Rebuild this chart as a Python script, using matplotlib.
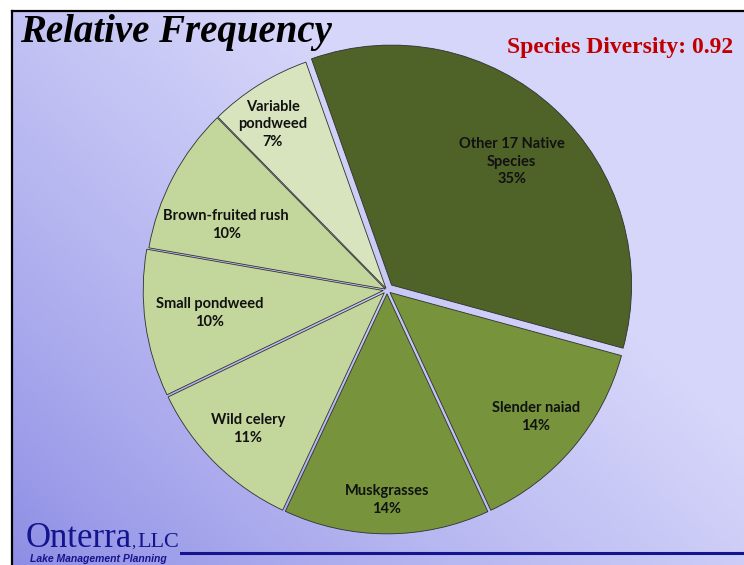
import numpy as np
import matplotlib.pyplot as plt
from matplotlib.colors import to_rgb
from matplotlib.patches import Rectangle

# relative frequency of aquatic plant species (percent)
species = ['Other 17 Native\nSpecies', 'Slender naiad', 'Muskgrasses', 'Wild celery',
           'Small pondweed', 'Brown-fruited rush', 'Variable\npondweed']
rel_freq = [35, 14, 14, 11, 10, 10, 7]
diversity = 0.92

colors = ['#4F6228', '#77933C', '#77933C', '#C3D69B', '#C3D69B', '#C3D69B', '#D7E4BD']
explode = [0.028, 0.016, 0.016, 0.016, 0.016, 0.008, 0.008]
# label centres, in pie radii from the pie centre
label_xy = [(0.52, 0.535), (0.62, -0.53), (0.0, -0.875), (-0.58, -0.58),
            (-0.74, -0.095), (-0.67, 0.27), (-0.475, 0.69)]

W, H = 744, 565
fig = plt.figure(figsize=(W / 100, H / 100), dpi=100)

# slide background: blue-lavender gradient, darker toward the lower left
bg = fig.add_axes([0, 0, 1, 1])
xx, yy = np.meshgrid(np.linspace(0, 1, W), np.linspace(0, 1, H))
s = 0.55 * xx + 0.45 * (1 - yy)
t = np.clip(s / 0.65, 0, 1) ** 0.8
dark = np.array(to_rgb('#8A8AE4'))
light = np.array(to_rgb('#D6D6FA'))
bg.imshow(dark + (light - dark) * t[..., None], extent=(0, W, H, 0), aspect='auto')
bg.add_patch(Rectangle((0, 0), W, 10, color='white', zorder=2))
bg.add_patch(Rectangle((0, 0), 11, H, color='white', zorder=2))
bg.plot([12, W], [11, 11], color='black', lw=1.6, zorder=3)
bg.plot([12, 12], [11, H], color='black', lw=1.6, zorder=3)
bg.plot([181, W], [553, 553], color='#14148C', lw=2.2, zorder=3)
bg.set_xlim(0, W)
bg.set_ylim(H, 0)
bg.axis('off')

bg.text(20, 42, 'Relative Frequency', fontsize=28, fontstyle='italic', fontweight='bold',
        family='Liberation Serif', ha='left', va='baseline')
bg.text(733, 53, f'Species Diversity: {diversity:.2f}', fontsize=17, fontweight='bold',
        family='Liberation Serif', color='#C00000', ha='right', va='baseline')
bg.text(26, 547, 'Onterra', fontsize=25, family='Liberation Serif', color='#14148C',
        ha='left', va='baseline')
bg.text(131, 547, ',', fontsize=12, family='Liberation Serif', color='#14148C',
        ha='left', va='baseline')
bg.text(137, 547, 'LLC', fontsize=16, family='Liberation Serif', color='#14148C',
        ha='left', va='baseline')
bg.text(30, 562, 'Lake Management Planning', fontsize=7.5, fontstyle='italic',
        fontweight='heavy', family=['Liberation Sans Narrow', 'Liberation Sans'],
        color='#14148C', ha='left', va='baseline')

# pie centred at (387, 290) px with a 240 px radius
cx, cy, R, half = 387, 290, 240, 260
ax = fig.add_axes([(cx - half) / W, (H - cy - half) / H, 2 * half / W, 2 * half / H])
wedges, _ = ax.pie(rel_freq, colors=colors, explode=explode, startangle=109.5,
                   counterclock=False,
                   wedgeprops=dict(edgecolor='#303030', linewidth=0.6))
for name, pct, (lx, ly) in zip(species, rel_freq, label_xy):
    ax.text(lx, ly, f'{name}\n{pct}%', ha='center', va='center', fontsize=10.5,
            fontweight='bold', family='Lato', linespacing=1.35, color='#111111')
ax.set_xlim(-half / R, half / R)
ax.set_ylim(-half / R, half / R)
ax.axis('off')

fig.savefig('out.png', dpi=100)
